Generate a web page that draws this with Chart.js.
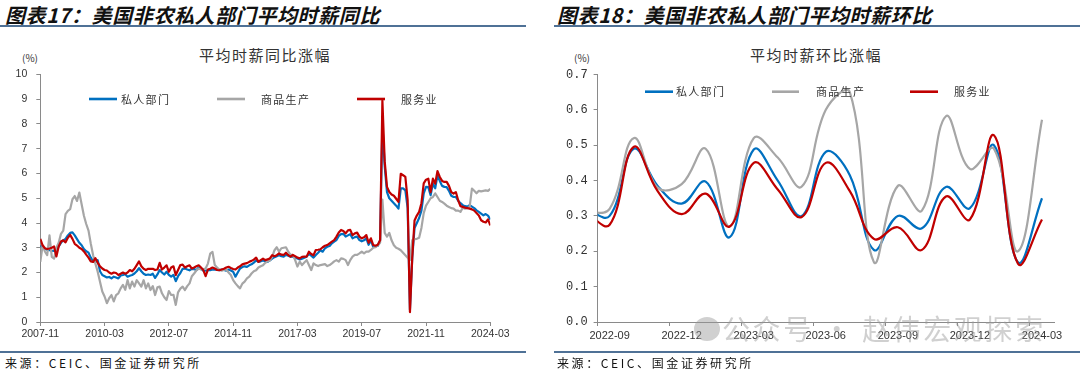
<!DOCTYPE html>
<html><head><meta charset="utf-8">
<script src="https://cdn.jsdelivr.net/npm/chart.js@4"></script>
<style>
html,body{margin:0;padding:0;background:#fff;width:1080px;height:379px;overflow:hidden;position:relative;font-family:"Noto Sans CJK SC",sans-serif;}
.abs{position:absolute;white-space:nowrap;}
.ftitle{font-size:20px;font-weight:700;font-style:italic;color:#111;top:2px;line-height:26px;letter-spacing:0.6px;}
.hline{position:absolute;height:2px;background:#4f7196;}
.ctitle{font-size:15px;color:#333;letter-spacing:1.5px;top:45px;line-height:20px;width:240px;text-align:center;}
.unit{font-size:10px;color:#333;top:51px;line-height:14px;}
.src{font-size:12px;color:#111;top:355px;line-height:16px;letter-spacing:2.6px;}
.wm{font-size:28px;color:rgba(150,150,150,0.45);top:310px;line-height:36px;letter-spacing:2.6px;}
.wmicon{position:absolute;left:694px;top:317px;width:26px;height:24px;border-radius:50%;background:rgba(150,150,150,0.45);}
canvas{position:absolute;}
</style></head>
<body>
<div class="abs ftitle" style="left:5px;">图表17：美国非农私人部门平均时薪同比</div>
<div class="abs ftitle" style="left:557px;">图表18：美国非农私人部门平均时薪环比</div>
<div class="hline" style="left:0;top:25px;width:526px;"></div>
<div class="hline" style="left:554px;top:25px;width:526px;"></div>
<div class="abs ctitle" style="left:145px;">平均时薪同比涨幅</div>
<div class="abs ctitle" style="left:696px;">平均时薪环比涨幅</div>
<div class="abs unit" style="left:22px;">(%)</div>
<div class="abs unit" style="left:574px;">(%)</div>
<canvas id="cL" width="530" height="310" style="left:0;top:40px;"></canvas>
<canvas id="cR" width="540" height="310" style="left:540px;top:40px;"></canvas>
<div class="wmicon"></div>
<div class="abs wm" style="left:722px;">公众号 · 赵伟宏观探索</div>
<div class="hline" style="left:0;top:351px;width:526px;height:1.5px;"></div>
<div class="hline" style="left:554px;top:351px;width:526px;height:1.5px;"></div>
<div class="abs src" style="left:5px;">来源：CEIC、国金证券研究所</div>
<div class="abs src" style="left:557px;">来源：CEIC、国金证券研究所</div>
<script>
// ---------- Left chart: YoY (monthly 2007-11 .. 2024-03) ----------
const tickLabelsL = ['2007-11','2010-03','2012-07','2014-11','2017-03','2019-07','2021-11','2024-03'];
const tickStepL = 28;
const privateYoY = [
3.09,3.0,2.96,2.92,2.9,2.88,2.87,2.93,3.05,3.2,
3.3,3.36,3.5,3.6,3.62,3.5,3.35,3.2,3.1,2.95,
2.86,2.8,2.6,2.45,2.42,2.5,2.05,1.9,1.85,1.8,
1.82,1.76,1.83,1.8,1.76,1.88,1.9,1.93,1.83,1.87,
1.9,1.96,2.05,2.18,2.05,1.95,1.9,1.92,1.9,1.95,
1.78,1.92,2.1,2.0,1.92,2.03,1.9,1.83,1.9,1.65,
1.85,1.98,2.15,2.16,2.12,2.09,2.15,2.14,2.09,2.2,
2.15,2.08,2.07,2.1,2.09,2.12,2.12,2.1,2.09,2.12,
2.1,2.07,2.12,2.08,2.03,1.83,2.0,2.16,2.22,2.25,
2.23,2.29,2.33,2.4,2.49,2.43,2.45,2.49,2.45,2.43,
2.49,2.56,2.62,2.66,2.7,2.66,2.64,2.71,2.68,2.64,
2.64,2.6,2.57,2.53,2.56,2.6,2.64,2.75,2.68,2.6,
2.71,2.8,2.9,2.84,2.98,3.04,3.07,3.18,3.25,3.31,
3.48,3.55,3.56,3.45,3.5,3.55,3.38,3.43,3.45,3.31,
3.26,3.3,3.38,3.12,3.3,3.04,3.05,3.08,3.3,8.0,
6.3,5.25,5.0,4.9,4.8,4.7,4.58,5.4,5.4,5.32,
4.6,0.5,2.6,3.8,4.0,4.2,4.5,5.2,5.46,5.45,
5.12,5.59,5.4,5.93,5.7,5.5,5.46,5.45,5.3,5.1,
5.05,5.05,4.9,4.8,4.72,4.68,4.66,4.72,4.66,4.6,
4.51,4.45,4.38,4.31,4.36,4.3,4.14];
const goodsYoY = [
2.43,3.09,2.85,2.7,3.5,2.63,2.56,3.0,3.2,3.56,
3.69,4.36,4.49,4.56,4.96,5.09,4.89,5.23,4.76,4.29,
3.96,3.69,3.16,2.7,2.36,2.03,1.63,1.23,1.03,0.76,
0.96,1.09,0.83,1.09,1.16,1.36,1.5,1.3,1.69,1.36,
1.63,1.43,1.69,1.56,1.43,1.69,1.36,1.56,1.29,1.45,
1.09,1.4,1.43,1.16,1.0,0.89,1.25,1.09,1.1,0.69,
1.2,1.35,1.43,1.29,1.45,1.56,1.85,1.96,2.09,2.16,
2.12,2.14,2.16,2.36,2.76,2.83,2.3,2.2,2.12,2.07,
2.1,2.12,2.0,1.9,1.69,1.56,1.45,1.36,1.55,1.63,
1.76,1.83,1.96,2.05,2.09,2.2,2.25,2.29,2.39,2.45,
2.49,2.63,2.9,3.02,2.84,2.98,3.0,3.02,2.84,2.71,
2.71,2.5,2.24,2.44,2.3,2.4,2.5,2.3,2.1,2.37,
2.3,2.26,2.3,2.32,2.34,2.26,2.3,2.37,2.45,2.5,
2.44,2.57,2.55,2.5,2.3,2.5,2.64,2.71,2.71,2.77,
2.84,2.77,2.84,2.84,2.91,3.0,3.02,3.1,3.2,4.95,
3.6,3.45,3.6,3.3,3.1,3.0,2.96,2.9,2.8,2.7,
2.6,2.5,3.3,3.35,3.36,3.4,3.8,4.4,4.7,4.85,
5.0,5.05,5.2,5.05,4.9,4.85,4.78,4.7,4.65,4.6,
4.58,4.5,4.5,4.45,4.62,4.58,4.6,4.65,5.39,5.3,
5.2,5.3,5.28,5.3,5.32,5.3,5.38];
const servicesYoY = [
3.36,3.1,2.98,2.95,2.97,3.0,3.05,2.65,3.05,3.25,
3.3,3.22,3.4,3.52,3.36,3.16,3.09,3.0,2.95,2.85,
2.72,2.6,2.45,2.43,2.58,2.4,2.25,2.16,2.1,2.08,
2.0,1.95,2.0,1.98,1.9,1.95,2.0,1.95,2.0,2.1,
2.05,2.15,2.3,2.45,2.25,2.15,2.1,2.15,2.15,2.15,
2.1,2.12,2.39,2.12,2.2,2.29,2.03,2.2,2.25,1.9,
2.1,2.3,2.32,2.2,2.25,2.29,2.16,2.2,2.25,2.29,
2.2,2.1,1.85,2.12,2.15,2.2,2.16,2.1,2.09,2.12,
2.15,2.2,2.23,2.18,2.14,2.12,2.2,2.25,2.33,2.36,
2.38,2.43,2.47,2.52,2.6,2.43,2.5,2.56,2.5,2.53,
2.57,2.7,2.66,2.7,2.77,2.72,2.71,2.8,2.7,2.64,
2.71,2.66,2.6,2.57,2.63,2.64,2.64,2.84,2.75,2.7,
2.91,2.92,2.94,3.02,3.08,3.11,3.18,3.25,3.31,3.45,
3.62,3.72,3.68,3.58,3.7,3.72,3.51,3.58,3.61,3.45,
3.38,3.42,3.51,3.2,3.38,3.11,3.08,3.12,3.3,8.95,
6.5,5.46,5.25,5.15,5.1,4.98,4.85,5.99,5.93,5.86,
4.92,0.4,2.6,4.1,4.3,4.45,4.8,5.6,5.75,5.79,
5.25,5.79,5.59,6.1,5.86,5.7,5.66,5.66,5.5,5.25,
5.19,5.25,4.92,4.68,4.65,4.62,4.6,4.58,4.55,4.5,
4.4,4.3,4.11,4.05,4.02,4.15,3.9];

// ---------- Right chart: MoM (2022-08 .. 2024-03, axis starts at 2022-09) ----------
const monthsR = ['2022-08','2022-09','2022-10','2022-11','2022-12','2023-01','2023-02','2023-03','2023-04','2023-05','2023-06','2023-07','2023-08','2023-09','2023-10','2023-11','2023-12','2024-01','2024-02','2024-03'];
const tickMonthsR = ['2022-09','2022-12','2023-03','2023-06','2023-09','2023-12','2024-03'];
const privateMoM  = [0.32,0.30,0.49,0.385,0.335,0.397,0.24,0.488,0.40,0.30,0.481,0.415,0.204,0.30,0.265,0.382,0.322,0.50,0.169,0.35];
const goodsMoM    = [0.31,0.32,0.52,0.38,0.39,0.49,0.27,0.52,0.465,0.383,0.60,0.65,0.17,0.385,0.315,0.582,0.433,0.49,0.20,0.572];
const servicesMoM = [0.31,0.275,0.495,0.37,0.305,0.363,0.27,0.45,0.375,0.297,0.45,0.37,0.235,0.268,0.204,0.355,0.29,0.528,0.165,0.29];

const seriesNames = ['私人部门','商品生产','服务业'];
const seriesColors = ['#0070C0','#A6A6A6','#C00000'];

const xlLegend = {
  id: 'xlLegend',
  afterDraw(chart, args, opts) {
    const ctx = chart.ctx;
    ctx.save();
    opts.items.forEach((it, k) => {
      const ds = chart.data.datasets[k];
      ctx.strokeStyle = ds.borderColor;
      ctx.lineWidth = 2.6;
      ctx.beginPath(); ctx.moveTo(it.x0, opts.y); ctx.lineTo(it.x1, opts.y); ctx.stroke();
      ctx.fillStyle = '#333';
      ctx.font = opts.font;
      try { ctx.letterSpacing = opts.spacing; } catch(e) {}
      ctx.textBaseline = 'middle';
      ctx.textAlign = 'left';
      ctx.fillText(ds.label, it.tx, opts.y + 0.5);
    });
    ctx.restore();
  }
};

function axisCommon(){
  return {
    grid:{display:true, drawOnChartArea:false, drawTicks:true, tickLength:4, tickColor:'#8a8a8a', tickWidth:1},
    border:{display:true, color:'#8a8a8a', width:1}
  };
}

function mkDatasets(a,b,c,xShift){
  const arrs=[a,b,c];
  const orders=[3,2,1];
  return arrs.map((arr,k)=>({
    label: seriesNames[k],
    data: arr.map((v,i)=>({x:i+xShift, y:v})),
    borderColor: seriesColors[k],
    backgroundColor: seriesColors[k],
    order: orders[k]
  }));
}

new Chart(document.getElementById('cL'), {
  type:'line',
  data:{datasets: mkDatasets(privateYoY, goodsYoY, servicesYoY, 0)},
  plugins:[xlLegend],
  options:{
    responsive:false, animation:false, devicePixelRatio:1,
    layout:{padding:{left:0, top:34.5, right:39.7, bottom:0}},
    elements:{point:{radius:0}, line:{borderWidth:2.2, tension:0, borderJoinStyle:'round'}},
    plugins:{legend:{display:false}, tooltip:{enabled:false},
      xlLegend:{y:59, font:'11px "Noto Sans CJK SC"', spacing:'1.3px',
        items:[{x0:89,x1:117,tx:121},{x0:217,x1:245,tx:261},{x0:357,x1:385,tx:401}]}},
    scales:{
      x:Object.assign(axisCommon(),{
        type:'linear', min:0, max:(tickLabelsL.length-1)*tickStepL,
        afterBuildTicks:(s)=>{ s.ticks = tickLabelsL.map((t,i)=>({value:i*tickStepL})); },
        afterFit:(s)=>{ s.height = 28; },
        ticks:{autoSkip:false, maxRotation:0, padding:2, color:'#333',
          font:{family:'"Liberation Sans"', size:10.5},
          callback:(v)=> tickLabelsL[Math.round(v/tickStepL)]}
      }),
      y:Object.assign(axisCommon(),{
        min:0, max:10,
        afterFit:(s)=>{ s.width = 40.3; },
        ticks:{stepSize:1, padding:9, color:'#333', font:{family:'"Liberation Sans"', size:10.5}}
      })
    }
  }
});

new Chart(document.getElementById('cR'), {
  type:'line',
  data:{datasets: mkDatasets(privateMoM, goodsMoM, servicesMoM, -1)},
  plugins:[xlLegend],
  options:{
    responsive:false, animation:false, devicePixelRatio:1,
    layout:{padding:{left:0, top:34.5, right:26, bottom:0}},
    elements:{point:{radius:0}, line:{borderWidth:2.2, tension:0.4, capBezierPoints:false}},
    plugins:{legend:{display:false}, tooltip:{enabled:false},
      xlLegend:{y:51.7, font:'11px "Noto Sans CJK SC"', spacing:'1.3px',
        items:[{x0:105,x1:133,tx:136},{x0:232,x1:259,tx:276},{x0:370,x1:398,tx:414}]}},
    scales:{
      x:Object.assign(axisCommon(),{
        type:'linear', min:-0.5, max:18.5,
        afterBuildTicks:(s)=>{ s.ticks = tickMonthsR.map(m=>({value: monthsR.indexOf(m)-1.5})); },
        afterFit:(s)=>{ s.height = 28; },
        ticks:{autoSkip:false, maxRotation:0, padding:3, labelOffset:12, color:'#333',
          font:{family:'"Liberation Sans"', size:11},
          callback:(v)=> monthsR[Math.round(v+1.5)]}
      }),
      y:Object.assign(axisCommon(),{
        min:0, max:0.7,
        afterFit:(s)=>{ s.width = 57.6; },
        ticks:{stepSize:0.1, padding:6, color:'#333', font:{family:'"Liberation Mono"', size:12},
          callback:(v)=> Number(v).toFixed(1)}
      })
    }
  }
});
</script>
</body></html>
